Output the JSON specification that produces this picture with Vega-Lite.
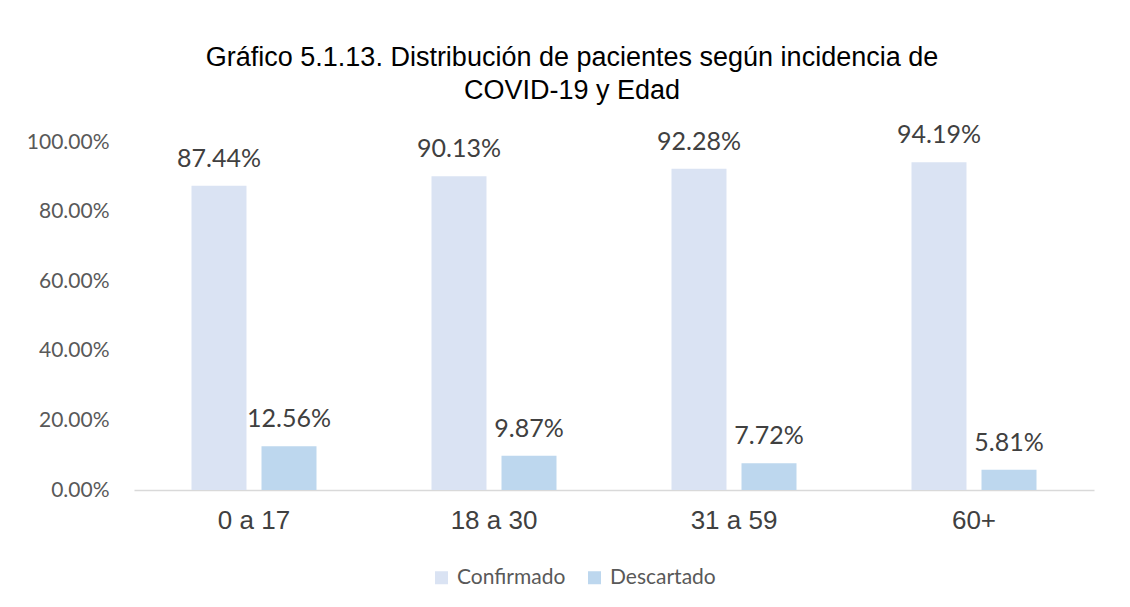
{
  "$schema": "https://vega.github.io/schema/vega-lite/v6.json",
  "width": 960,
  "height": 348,
  "autosize": {"type": "none"},
  "padding": {"left": 134, "top": 142, "right": 36, "bottom": 117},
  "background": "white",
  "title": {
    "text": ["Gráfico 5.1.13. Distribución de pacientes según incidencia de", "COVID-19 y Edad"],
    "font": "Liberation Sans",
    "fontSize": 27,
    "fontWeight": "normal",
    "color": "#000000",
    "anchor": "middle",
    "dx": -42,
    "offset": 18,
    "lineHeight": 33
  },
  "data": {
    "values": [
      {"edad": "0 a 17", "estado": "Confirmado", "valor": 0.8744},
      {"edad": "0 a 17", "estado": "Descartado", "valor": 0.1256},
      {"edad": "18 a 30", "estado": "Confirmado", "valor": 0.9013},
      {"edad": "18 a 30", "estado": "Descartado", "valor": 0.0987},
      {"edad": "31 a 59", "estado": "Confirmado", "valor": 0.9228},
      {"edad": "31 a 59", "estado": "Descartado", "valor": 0.0772},
      {"edad": "60+", "estado": "Confirmado", "valor": 0.9419},
      {"edad": "60+", "estado": "Descartado", "valor": 0.0581}
    ]
  },
  "encoding": {
    "x": {
      "field": "edad", "type": "nominal", "sort": null,
      "scale": {"paddingInner": 0, "paddingOuter": 0},
      "axis": {
        "title": null, "labelAngle": 0, "ticks": false,
        "domainColor": "#d9d9d9", "domainWidth": 1.5,
        "labelFont": "Liberation Sans", "labelFontSize": 26, "labelColor": "#404040",
        "labelPadding": 17
      }
    },
    "xOffset": {
      "field": "estado", "type": "nominal",
      "scale": {"paddingInner": 0.2143, "paddingOuter": 0.8214}
    },
    "y": {
      "field": "valor", "type": "quantitative",
      "scale": {"domain": [0, 1]},
      "axis": {
        "title": null, "values": [0, 0.2, 0.4, 0.6, 0.8, 1], "format": ".2%",
        "grid": false, "ticks": false, "domain": false,
        "labelFont": "Lato", "labelFontSize": 21, "labelColor": "#595959",
        "labelPadding": 25
      }
    }
  },
  "layer": [
    {
      "mark": {"type": "bar"},
      "encoding": {
        "color": {
          "field": "estado", "type": "nominal",
          "scale": {"domain": ["Confirmado", "Descartado"], "range": ["#DAE3F3", "#BDD7EE"]},
          "legend": {
            "title": null, "orient": "none", "legendX": 297, "legendY": 425,
            "direction": "horizontal",
            "symbolType": "square", "symbolSize": 169, "symbolStrokeWidth": 0,
            "labelFont": "Lato", "labelFontSize": 21, "labelColor": "#595959",
            "labelOffset": 5, "columnPadding": 18
          }
        }
      }
    },
    {
      "mark": {"type": "text", "baseline": "alphabetic", "dy": -19, "font": "Lato", "fontSize": 25, "color": "#404040"},
      "encoding": {
        "text": {"field": "valor", "type": "quantitative", "format": ".2%"}
      }
    }
  ],
  "config": {"view": {"stroke": null}}
}
